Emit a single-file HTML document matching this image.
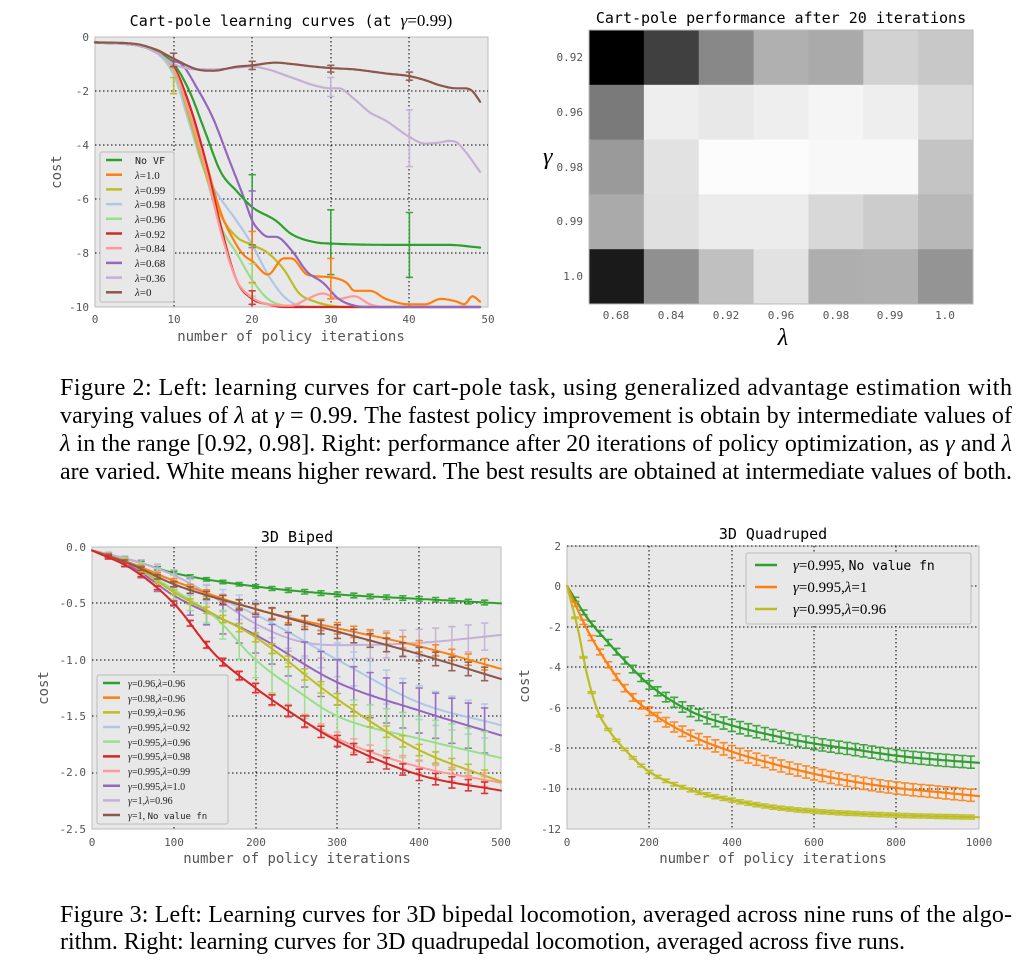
<!DOCTYPE html>
<html><head><meta charset="utf-8"><style>
html,body{margin:0;padding:0;background:#fff;}
svg{display:block}
.t{font-family:"DejaVu Sans Mono","Liberation Mono",monospace;fill:#555;font-size:11px}
.ti{font-family:"DejaVu Sans Mono","Liberation Mono",monospace;fill:#000;font-size:15px}
.al{font-family:"DejaVu Sans Mono","Liberation Mono",monospace;fill:#555;font-size:14px}
.lg{font-family:"Liberation Serif",serif;fill:#222;font-size:11px}
.cap{font-family:"Liberation Serif",serif;fill:#000;font-size:24px}
.m{font-style:italic}
</style></head><body>
<svg id="s" width="1032" height="965" viewBox="0 0 1032 965" xmlns="http://www.w3.org/2000/svg">
<rect width="1032" height="965" fill="#fff"/>
<rect x="95" y="37" width="393" height="270" fill="#e8e8e8" stroke="#bbb"/>
<rect x="92" y="547" width="409" height="282" fill="#e8e8e8" stroke="#bbb"/>
<rect x="567" y="546" width="412" height="283" fill="#e8e8e8" stroke="#bbb"/>
<g id="grid" stroke="#000" stroke-width="1" stroke-dasharray="1.5,2.5" fill="none"></g>
<g id="curves" fill="none" stroke-linejoin="round" stroke-linecap="round"></g>

<text class="ti" x="291" y="26" text-anchor="middle">Cart-pole learning curves (at <tspan font-family="Liberation Serif" font-size="17" class="m">γ</tspan><tspan font-family="Liberation Serif" font-size="17">=0.99)</tspan></text>
<g class="t" text-anchor="end">
<text x="89" y="41">0</text><text x="89" y="95">-2</text><text x="89" y="149">-4</text><text x="89" y="203">-6</text><text x="89" y="257">-8</text><text x="89" y="311">-10</text>
</g>
<g class="t" text-anchor="middle">
<text x="95" y="323">0</text><text x="174" y="323">10</text><text x="252" y="323">20</text><text x="331" y="323">30</text><text x="409" y="323">40</text><text x="488" y="323">50</text>
</g>
<text class="al" x="291" y="341" text-anchor="middle">number of policy iterations</text>
<text class="al" x="61" y="172" text-anchor="middle" transform="rotate(-90 61 172)">cost</text>
<rect x="100" y="152" width="74" height="150" fill="#e8e8e8" stroke="#bbb" rx="2"/>
<g id="lg1"></g>

<text class="ti" x="781" y="23" text-anchor="middle">Cart-pole performance after 20 iterations</text>
<g id="heat"></g>
<rect x="589" y="30" width="384" height="274" fill="none" stroke="#bbb"/>
<g class="t" text-anchor="end">
<text x="583" y="61">0.92</text><text x="583" y="116">0.96</text><text x="583" y="171">0.98</text><text x="583" y="225">0.99</text><text x="583" y="280">1.0</text>
</g>
<g class="t" text-anchor="middle">
<text x="616" y="319">0.68</text><text x="671" y="319">0.84</text><text x="726" y="319">0.92</text><text x="781" y="319">0.96</text><text x="836" y="319">0.98</text><text x="890" y="319">0.99</text><text x="945" y="319">1.0</text>
</g>
<text x="783" y="345" font-family="Liberation Serif" font-style="italic" font-size="24" text-anchor="middle">λ</text>
<text x="543" y="164" font-family="Liberation Serif" font-style="italic" font-size="24">γ</text>

<text class="cap" x="60" y="395" textLength="952" lengthAdjust="spacing">Figure 2:   Left: learning curves for cart-pole task, using generalized advantage estimation with</text>
<text class="cap" x="60" y="423" textLength="952" lengthAdjust="spacing">varying values of <tspan class="m">λ</tspan> at <tspan class="m">γ</tspan> = 0.99. The fastest policy improvement is obtain by intermediate values of</text>
<text class="cap" x="60" y="451" textLength="952" lengthAdjust="spacing"><tspan class="m">λ</tspan> in the range [0.92, 0.98]. Right: performance after 20 iterations of policy optimization, as <tspan class="m">γ</tspan> and <tspan class="m">λ</tspan></text>
<text class="cap" x="60" y="479" textLength="952" lengthAdjust="spacing">are varied. White means higher reward. The best results are obtained at intermediate values of both.</text>

<text class="ti" x="297" y="542" text-anchor="middle">3D Biped</text>
<g class="t" text-anchor="end">
<text x="86" y="551">0.0</text><text x="86" y="607">-0.5</text><text x="86" y="664">-1.0</text><text x="86" y="720">-1.5</text><text x="86" y="776">-2.0</text><text x="86" y="833">-2.5</text>
</g>
<g class="t" text-anchor="middle">
<text x="92" y="846">0</text><text x="174" y="846">100</text><text x="256" y="846">200</text><text x="337" y="846">300</text><text x="419" y="846">400</text><text x="501" y="846">500</text>
</g>
<text class="al" x="297" y="863" text-anchor="middle">number of policy iterations</text>
<text class="al" x="48" y="688" text-anchor="middle" transform="rotate(-90 48 688)">cost</text>
<rect x="97" y="675" width="131" height="149" fill="#e8e8e8" stroke="#bbb" rx="2"/>
<g id="lg2"></g>

<text class="ti" x="773" y="539" text-anchor="middle">3D Quadruped</text>
<g class="t" text-anchor="end">
<text x="561" y="550">2</text><text x="561" y="590">0</text><text x="561" y="631">-2</text><text x="561" y="671">-4</text><text x="561" y="712">-6</text><text x="561" y="752">-8</text><text x="561" y="792">-10</text><text x="561" y="833">-12</text>
</g>
<g class="t" text-anchor="middle">
<text x="567" y="846">0</text><text x="649" y="846">200</text><text x="732" y="846">400</text><text x="814" y="846">600</text><text x="896" y="846">800</text><text x="979" y="846">1000</text>
</g>
<text class="al" x="773" y="863" text-anchor="middle">number of policy iterations</text>
<text class="al" x="529" y="686" text-anchor="middle" transform="rotate(-90 529 686)">cost</text>
<rect x="746" y="553" width="225" height="71" fill="#e8e8e8" stroke="#bbb" rx="2"/>
<line x1="755" y1="565" x2="777" y2="565" stroke="#2ca02c" stroke-width="2.5"/>
<line x1="755" y1="587" x2="777" y2="587" stroke="#ff7f0e" stroke-width="2.5"/>
<line x1="755" y1="609" x2="777" y2="609" stroke="#bcbd22" stroke-width="2.5"/>
<text x="793" y="570" font-family="Liberation Serif" font-size="15"><tspan font-style="italic">γ</tspan>=0.995, <tspan font-family="DejaVu Sans Mono" font-size="13">No value fn</tspan></text>
<text x="793" y="592" font-family="Liberation Serif" font-size="15"><tspan font-style="italic">γ</tspan>=0.995,<tspan font-style="italic">λ</tspan>=1</text>
<text x="793" y="614" font-family="Liberation Serif" font-size="15"><tspan font-style="italic">γ</tspan>=0.995,<tspan font-style="italic">λ</tspan>=0.96</text>

<text class="cap" x="60" y="922" textLength="952" lengthAdjust="spacing">Figure 3: Left: Learning curves for 3D bipedal locomotion, averaged across nine runs of the algo-</text>
<text class="cap" x="60" y="949" textLength="845" lengthAdjust="spacing">rithm. Right: learning curves for 3D quadrupedal locomotion, averaged across five runs.</text>

<g font-family="DejaVu Sans Mono" font-size="10" fill="#222">
<text x="135" y="164">No VF</text>
</g>
<g font-family="Liberation Serif" font-size="11" fill="#222">
<text x="135" y="179"><tspan font-style="italic">λ</tspan>=1.0</text>
<text x="135" y="194"><tspan font-style="italic">λ</tspan>=0.99</text>
<text x="135" y="208"><tspan font-style="italic">λ</tspan>=0.98</text>
<text x="135" y="223"><tspan font-style="italic">λ</tspan>=0.96</text>
<text x="135" y="238"><tspan font-style="italic">λ</tspan>=0.92</text>
<text x="135" y="252"><tspan font-style="italic">λ</tspan>=0.84</text>
<text x="135" y="267"><tspan font-style="italic">λ</tspan>=0.68</text>
<text x="135" y="282"><tspan font-style="italic">λ</tspan>=0.36</text>
<text x="135" y="296"><tspan font-style="italic">λ</tspan>=0</text>
</g>
<g font-family="Liberation Serif" font-size="10" fill="#222">
<text x="128" y="687"><tspan font-style="italic">γ</tspan>=0.96,<tspan font-style="italic">λ</tspan>=0.96</text>
<text x="128" y="702"><tspan font-style="italic">γ</tspan>=0.98,<tspan font-style="italic">λ</tspan>=0.96</text>
<text x="128" y="716"><tspan font-style="italic">γ</tspan>=0.99,<tspan font-style="italic">λ</tspan>=0.96</text>
<text x="128" y="731"><tspan font-style="italic">γ</tspan>=0.995,<tspan font-style="italic">λ</tspan>=0.92</text>
<text x="128" y="746"><tspan font-style="italic">γ</tspan>=0.995,<tspan font-style="italic">λ</tspan>=0.96</text>
<text x="128" y="760"><tspan font-style="italic">γ</tspan>=0.995,<tspan font-style="italic">λ</tspan>=0.98</text>
<text x="128" y="775"><tspan font-style="italic">γ</tspan>=0.995,<tspan font-style="italic">λ</tspan>=0.99</text>
<text x="128" y="790"><tspan font-style="italic">γ</tspan>=0.995,<tspan font-style="italic">λ</tspan>=1.0</text>
<text x="128" y="804"><tspan font-style="italic">γ</tspan>=1,<tspan font-style="italic">λ</tspan>=0.96</text>
<text x="128" y="819"><tspan font-style="italic">γ</tspan>=1, <tspan font-family="DejaVu Sans Mono" font-size="9">No value fn</tspan></text>
</g>
</svg>
<script>
var NS="http://www.w3.org/2000/svg";
function el(p,t,a){var e=document.createElementNS(NS,t);for(var k in a)e.setAttribute(k,a[k]);p.appendChild(e);return e;}
var G=document.getElementById('grid'),C=document.getElementById('curves');
function hl(x1,x2,y){el(G,'line',{x1:x1,x2:x2,y1:y,y2:y});}
function vl(x,y1,y2){el(G,'line',{x1:x,x2:x,y1:y1,y2:y2});}
[174,252,331,409].forEach(function(x){vl(x,37,307)});[91,145,199,253].forEach(function(y){hl(95,488,y)});
[174,256,337,419].forEach(function(x){vl(x,547,829)});[603,660,716,773].forEach(function(y){hl(92,501,y)});
[649,732,814,896].forEach(function(x){vl(x,546,829)});[546,586,627,667,708,748,789].forEach(function(y){hl(567,979,y)});
// monotone cubic (Fritsch-Carlson) to avoid overshoot
function interp(pts,x){
 var n=pts.length;
 if(!pts._m){var d=[],m=[];for(var i=0;i<n-1;i++)d.push((pts[i+1][1]-pts[i][1])/(pts[i+1][0]-pts[i][0]));
  m[0]=d[0];m[n-1]=d[n-2];for(i=1;i<n-1;i++){m[i]=(d[i-1]*d[i]<=0)?0:(d[i-1]+d[i])/2;}
  for(i=0;i<n-1;i++){if(d[i]==0){m[i]=0;m[i+1]=0;continue;}var a=m[i]/d[i],b=m[i+1]/d[i],s=a*a+b*b;if(s>9){var t=3/Math.sqrt(s);m[i]=t*a*d[i];m[i+1]=t*b*d[i];}}
  pts._m=m;}
 var m=pts._m;
 for(var i=0;i<n-1;i++){if(x<=pts[i+1][0]){
  var h=pts[i+1][0]-pts[i][0],t=(x-pts[i][0])/h,t2=t*t,t3=t2*t;
  return (2*t3-3*t2+1)*pts[i][1]+(t3-2*t2+t)*h*m[i]+(-2*t3+3*t2)*pts[i+1][1]+(t3-t2)*h*m[i+1];}}
 return pts[n-1][1];}
function curve(pts,mx,my,col,x0,x1,step,w){
 var d="";for(var x=x0;x<=x1+1e-9;x+=step){var y=interp(pts,x);d+=(d?"L":"M")+mx(x).toFixed(1)+","+my(y).toFixed(1);}
 el(C,'path',{d:d,stroke:col,'stroke-width':w||2.2});}
function ebar(x,y1,y2,col,cw){el(C,'path',{d:"M"+x+","+y1+"V"+y2+"M"+(x-cw)+","+y1+"h"+2*cw+"M"+(x-cw)+","+y2+"h"+2*cw,stroke:col,'stroke-width':1.6,opacity:0.9});}
var col={g:"#2ca02c",o:"#ff7f0e",ol:"#bcbd22",lb:"#aec7e8",lg:"#98df8a",r:"#d62728",p:"#ff9896",pu:"#9467bd",la:"#c5b0d5",b:"#8c564b"};
var mx1=function(x){return 95+x*7.86},my1=function(y){return 37-y*27};
var S1=[
["lb",[[0,-.2],[6,-.35],[10,-1.4],[12,-3.2],[14,-5],[16,-6],[18,-6.8],[20,-7.7],[22,-8.8],[24,-9.6],[26,-9.95],[28,-10],[49,-10]]],
["lg",[[0,-.2],[6,-.35],[10,-1.3],[12,-3],[14,-5],[16,-7],[18,-8],[20,-9],[22,-9.7],[24,-9.95],[26,-10],[49,-10]]],
["ol",[[0,-.2],[6,-.35],[10,-1.1],[12,-3],[14,-5],[16,-6.6],[18,-7.4],[20,-7.7],[22,-8],[24,-8.6],[26,-9.5],[28,-9.8],[30,-9.95],[32,-10],[49,-10]]],
["o",[[0,-.2],[6,-.35],[10,-1.1],[12,-2.5],[14,-4.5],[16,-6.5],[18,-7.7],[19,-8.1],[20,-8.3],[22,-8.8],[24,-8.2],[25,-8.2],[27,-8.8],[30,-8.9],[32,-9.1],[33,-9.4],[35,-9.4],[37,-9.7],[40,-9.9],[42,-9.9],[44,-9.7],[46,-9.8],[47,-9.9],[48,-9.6],[49,-9.8]]],
["r",[[0,-.2],[6,-.35],[10,-1.1],[12,-2.5],[14,-4.5],[16,-7],[18,-9],[20,-9.7],[22,-9.9],[24,-10],[49,-10]]],
["p",[[0,-.2],[6,-.35],[10,-1.2],[12,-2.8],[14,-4.8],[16,-7.2],[18,-9],[20,-9.65],[22,-9.9],[25,-9.95],[27,-9.7],[29,-9.5],[31,-9.7],[33,-9.6],[35,-9.9],[37,-10],[49,-10]]],
["pu",[[0,-.2],[6,-.35],[8,-.6],[10,-.9],[11,-1],[13,-1.9],[15,-3],[17,-4.5],[19,-6],[20,-6.8],[21,-7.2],[22,-7.4],[23,-7.4],[25,-7.9],[27,-8.7],[29,-9.1],[31,-9.7],[33,-9.95],[35,-10],[49,-10]]],
["g",[[0,-.2],[6,-.35],[8,-.6],[10,-1],[12,-2],[14,-3.5],[16,-5],[18,-5.7],[20,-6.3],[23,-6.8],[25,-7.3],[28,-7.6],[30,-7.65],[40,-7.7],[45,-7.7],[49,-7.8]]],
["la",[[0,-.2],[6,-.35],[8,-.6],[10,-1],[13,-1.2],[15,-1.2],[20,-1.1],[22,-1.2],[25,-1.5],[28,-1.8],[30,-1.9],[31,-1.9],[33,-2.3],[35,-2.8],[37,-3.1],[40,-3.7],[42,-3.95],[44,-3.9],[45,-3.85],[46,-3.9],[47,-4.2],[49,-5]]],
["b",[[0,-.2],[5,-.25],[8,-.5],[10,-.8],[13,-1.2],[15,-1.25],[18,-1.1],[20,-1.05],[23,-.95],[25,-1],[28,-1.1],[30,-1.15],[33,-1.2],[37,-1.35],[40,-1.45],[42,-1.6],[44,-1.8],[46,-1.9],[47,-1.9],[48,-2],[49,-2.4]]]];
S1.forEach(function(s){curve(s[1],mx1,my1,col[s[0]],0,49,0.25);});
[["g",20,-5.1,-7.7],["g",30,-6.4,-8.8],["g",40,-6.5,-8.9],["la",40,-2.7,-4.8],["la",30,-1.5,-2.2],["b",40,-1.3,-1.6],["b",30,-1.05,-1.3],["b",20,-0.9,-1.2],["pu",20,-5.7,-7.8],["o",30,-8.2,-9.7],["o",20,-7.2,-9.1],["ol",10,-1.5,-2.1],["b",10,-0.6,-1.1],["lg",20,-8.4,-9.6],["r",20,-9.4,-9.9]].forEach(function(e){ebar(mx1(e[1]),my1(e[2]),my1(e[3]),col[e[0]],3);});
var L1=document.getElementById('lg1');
["g","o","ol","lb","lg","r","p","pu","la","b"].forEach(function(c,i){el(L1,'line',{x1:106,x2:122,y1:160+i*14.7,y2:160+i*14.7,stroke:col[c],'stroke-width':2.5});});
var H=[[0,0x40,0x88,0xb0,0xaa,0xd2,0xc8],[0x7a,0xee,0xe8,0xee,0xf5,0xee,0xdc],[0x9a,0xe2,0xfc,0xfc,0xf8,0xf8,0xc4],[0xaa,0xe0,0xec,0xec,0xd8,0xcc,0xb8],[0x1a,0x90,0xc0,0xe2,0xae,0xb0,0x94]];
var HG=document.getElementById('heat');
H.forEach(function(r,i){r.forEach(function(v,j){el(HG,'rect',{x:(589+j*54.86).toFixed(2),y:(30+i*54.8).toFixed(2),width:55.4,height:55.3,fill:"rgb("+v+","+v+","+v+")"});});});
var mx2=function(x){return 92+x*0.818},my2=function(y){return 547-y*112.8};
var S2=[
["g",[[0,-.03],[50,-.12],[100,-.23],[200,-.35],[300,-.42],[400,-.46],[500,-.5]],.02],
["la",[[0,-.03],[50,-.12],[100,-.25],[150,-.45],[200,-.68],[250,-.83],[300,-.87],[400,-.85],[500,-.78]],.12],
["lb",[[0,-.03],[50,-.15],[100,-.3],[200,-.6],[300,-1],[400,-1.38],[500,-1.58]],.15],
["pu",[[0,-.03],[50,-.18],[100,-.43],[200,-.78],[300,-1.2],[400,-1.45],[500,-1.67]],.2],
["lg",[[0,-.03],[50,-.16],[100,-.38],[150,-.62],[200,-1],[250,-1.27],[300,-1.5],[400,-1.7],[500,-1.87]],.2],
["ol",[[0,-.03],[50,-.16],[100,-.4],[150,-.6],[200,-.8],[300,-1.35],[400,-1.8],[500,-2.08]],.05],
["o",[[0,-.03],[50,-.15],[100,-.3],[200,-.55],[300,-.72],[400,-.88],[500,-1.08]],.05],
["b",[[0,-.03],[50,-.16],[100,-.33],[200,-.55],[300,-.75],[400,-.95],[500,-1.17]],.06],
["p",[[0,-.03],[50,-.2],[100,-.5],[150,-.95],[200,-1.25],[250,-1.5],[300,-1.7],[400,-1.95],[500,-2.09]],.06],
["r",[[0,-.03],[50,-.2],[100,-.5],[150,-.95],[200,-1.25],[250,-1.5],[300,-1.72],[400,-2.02],[500,-2.16]],.05]];
S2.forEach(function(s){curve(s[1],mx2,my2,col[s[0]],0,500,2,2);
 for(var x=20;x<=480;x+=20){var y=interp(s[1],x),h=Math.max(.015,s[2]*Math.min(1,x/250));ebar(+mx2(x).toFixed(1),my2(y+h).toFixed(1),my2(y-h).toFixed(1),col[s[0]],3);}});
var L2=document.getElementById('lg2');
["g","o","ol","lb","lg","r","p","pu","la","b"].forEach(function(c,i){el(L2,'line',{x1:103,x2:120,y1:683+i*14.67,y2:683+i*14.67,stroke:col[c],'stroke-width':2.5});});
var mx3=function(x){return 567+x*0.412},my3=function(y){return 586-y*20.2};
var S3=[
["g",[[0,0],[50,-1.6],[100,-2.8],[150,-3.9],[200,-4.9],[300,-6.2],[400,-6.9],[500,-7.4],[600,-7.8],[700,-8.1],[800,-8.4],[900,-8.6],[1000,-8.75]],.3],
["o",[[0,0],[50,-2.2],[100,-3.9],[150,-5.3],[200,-6.2],[300,-7.4],[400,-8.2],[500,-8.8],[600,-9.3],[700,-9.7],[800,-10],[900,-10.2],[1000,-10.4]],.3],
["ol",[[0,0],[25,-2],[50,-4.5],[75,-6.2],[100,-7.1],[150,-8.3],[200,-9.2],[300,-10.1],[400,-10.6],[500,-10.95],[600,-11.15],[800,-11.35],[1000,-11.45]],.1]];
S3.forEach(function(s){curve(s[1],mx3,my3,col[s[0]],0,1000,5,2.2);
 for(var x=20;x<=980;x+=20){var y=interp(s[1],x),h=s[2]*Math.min(1,0.3+x/500);ebar(+mx3(x).toFixed(1),my3(y+h).toFixed(1),my3(y-h).toFixed(1),col[s[0]],3.5);}});
</script>
</body></html>
